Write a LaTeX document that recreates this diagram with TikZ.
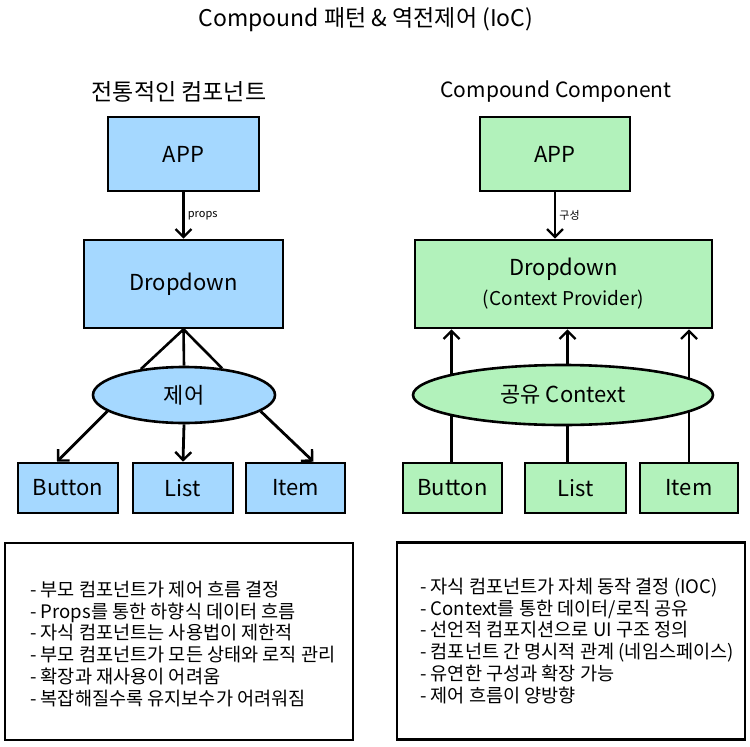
\documentclass[tikz,border=0pt]{standalone}
\usepackage{fontspec}
\setmainfont{Noto Sans CJK KR}
\usetikzlibrary{shapes.geometric,arrows.meta,positioning}

\definecolor{oldblue}{HTML}{A5D8FF}
\definecolor{newgreen}{HTML}{B2F2BB}

\tikzset{
  part/.style={draw, line width=2.6pt, inner sep=0, font=\fontsize{22}{26}\selectfont},
  oldpart/.style={part, fill=oldblue},
  newpart/.style={part, fill=newgreen},
  bubble/.style={ellipse, draw, line width=2.6pt, inner sep=0, font=\fontsize{22}{26}\selectfont},
  flow/.style={-{Straight Barb[length=8pt,width=16pt,line width=2.4pt]}, line width=2.8pt},
  link/.style={line width=2.6pt},
  heading/.style={font=\fontsize{23}{27}\selectfont},
  tag/.style={font=\fontsize{11}{13}\selectfont, inner sep=3pt},
  notebox/.style={draw, line width=2.6pt, fill=white, minimum width=348, minimum height=197},
  notetext/.style={anchor=north west, align=left, inner sep=0, font=\fontsize{18.6}{21.7}\selectfont}
}

\begin{document}
\begin{tikzpicture}[x=1pt,y=-1pt]
\useasboundingbox (0,0) rectangle (750,747);

\node[heading] (title) at (366,20) {Compound 패턴 \& 역전제어 (IoC)};
\node[heading] (hdrold) at (179,92) {전통적인 컴포넌트};
\node[heading, font=\fontsize{21}{25}\selectfont] (hdrnew) at (556,92) {Compound Component};

% traditional side
\node[oldpart, minimum width=151, minimum height=74] (app1) at (183.5,154) {APP};
\node[oldpart, minimum width=199, minimum height=88] (dd1) at (183.5,284) {Dropdown};
\node[bubble, fill=oldblue, minimum width=182, minimum height=56] (ctl1) at (184,395) {제어};
\node[oldpart, minimum width=100, minimum height=50] (btn1) at (68,488) {Button};
\node[oldpart, minimum width=100, minimum height=50] (list1) at (183,488) {List};
\node[oldpart, minimum width=99, minimum height=50] (item1) at (295.5,488) {Item};

\draw[flow] (app1.south) -- node[tag, right] (lblprops) {props} (dd1.north);
\draw[link] (dd1.south) -- (ctl1.149);
\draw[link] (dd1.south) -- (ctl1.north);
\draw[link] (dd1.south) -- (ctl1.35);
\draw[flow] (ctl1.192) -- ([xshift=-11]btn1.north);
\draw[flow] (ctl1.south) -- (list1.north);
\draw[flow] (ctl1.348) -- ([xshift=18]item1.north);

% compound side
\node[newpart, minimum width=150, minimum height=74] (app2) at (555,154) {APP};
\node[newpart, minimum width=297, minimum height=88, align=center] (dd2) at (563.5,284)
  {Dropdown\\[4pt]{\fontsize{19}{22}\selectfont (Context Provider)}};
\node[newpart, minimum width=99, minimum height=50] (btn2) at (452.5,488) {Button};
\node[newpart, minimum width=101, minimum height=50] (list2) at (575.5,488) {List};
\node[newpart, minimum width=98, minimum height=50] (item2) at (689,488) {Item};

\draw[flow] (app2.south) -- node[tag, right] (lblcompose) {구성} (app2.south |- dd2.north);
\draw[flow] ([xshift=-1]btn2.north) -- ([xshift=-1]btn2.north |- dd2.south);
\draw[flow] ([xshift=-8]list2.north) -- ([xshift=-8]list2.north |- dd2.south);
\draw[flow] (item2.north) -- (item2.north |- dd2.south);
\node[bubble, fill=newgreen, minimum width=300, minimum height=60] (ctx) at (563,395) {공유 Context};

% notes
\node[notebox] (noteold) at (179,641.5) {};
\node[notetext] (textold) at (30,581) {- 부모 컴포넌트가 제어 흐름 결정\\
- Props를 통한 하향식 데이터 흐름\\
- 자식 컴포넌트는 사용법이 제한적\\
- 부모 컴포넌트가 모든 상태와 로직 관리\\
- 확장과 재사용이 어려움\\
- 복잡해질수록 유지보수가 어려워짐};

\node[notebox] (notenew) at (571,641) {};
\node[notetext] (textnew) at (420,578) {- 자식 컴포넌트가 자체 동작 결정 (IOC)\\
- Context를 통한 데이터/로직 공유\\
- 선언적 컴포지션으로 UI 구조 정의\\
- 컴포넌트 간 명시적 관계 (네임스페이스)\\
- 유연한 구성과 확장 가능\\
- 제어 흐름이 양방향};
\end{tikzpicture}
\end{document}
